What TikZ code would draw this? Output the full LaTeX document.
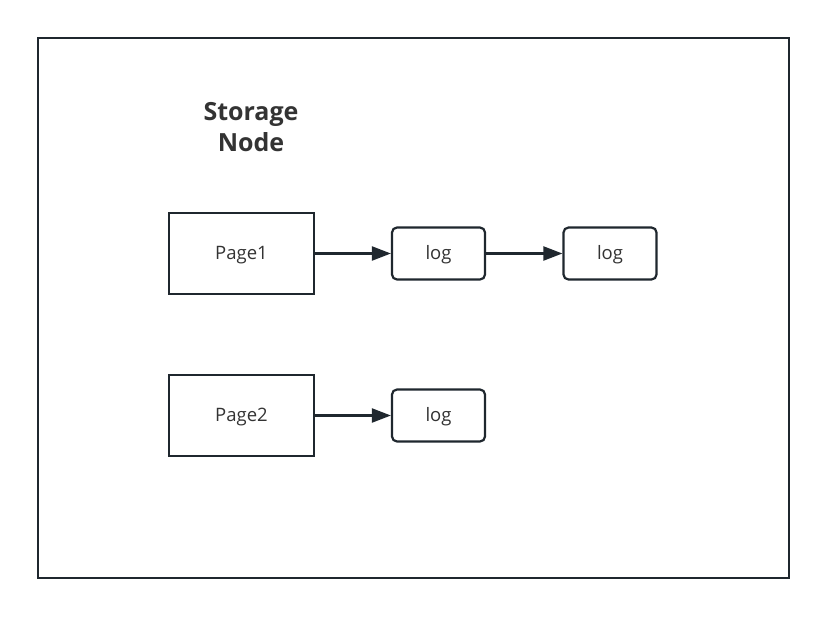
\documentclass[tikz,border=0pt]{standalone}
\usepackage{fontspec}
\setmainfont{Open Sans}
\usetikzlibrary{arrows.meta}
\definecolor{ink}{HTML}{1F272E}
\definecolor{txt}{HTML}{333333}
\tikzset{
  pagebox/.style={draw=ink, line width=2.2pt, minimum width=145pt, minimum height=81pt, inner sep=0pt, text height=13pt, text depth=1pt, font=\fontsize{18.5}{22}\selectfont, text=txt},
  logbox/.style={draw=ink, line width=2.2pt, rounded corners=5pt, minimum width=93pt, minimum height=52pt, inner sep=0pt, text height=13pt, text depth=1pt, font=\fontsize{18.5}{22}\selectfont, text=txt},
  conn/.style={draw=ink, line width=2.2pt, -{Triangle[length=19pt,width=14pt]}}
}
\begin{document}
\begin{tikzpicture}[x=1pt,y=-1pt]
\useasboundingbox (0,0) rectangle (826,616);
\node[draw=ink, line width=2.5pt, minimum width=751pt, minimum height=540pt, inner sep=0pt] (frame) at (413.5,308) {};
\node[font=\bfseries\fontsize{25}{31}\selectfont, text=txt, align=center] (title) at (251,127) {Storage\\Node};
\node[pagebox] (p1) at (241.5,253.5) {Page1};
\node[logbox] (l1) at (438.5,253.5) {log};
\node[logbox] (l2) at (610,253.5) {log};
\node[pagebox] (p2) at (241.5,415.5) {Page2};
\node[logbox] (l3) at (438.5,415.5) {log};
\draw[conn] (p1) -- (l1);
\draw[conn] (l1) -- (l2);
\draw[conn] (p2) -- (l3);
\end{tikzpicture}
\end{document}
